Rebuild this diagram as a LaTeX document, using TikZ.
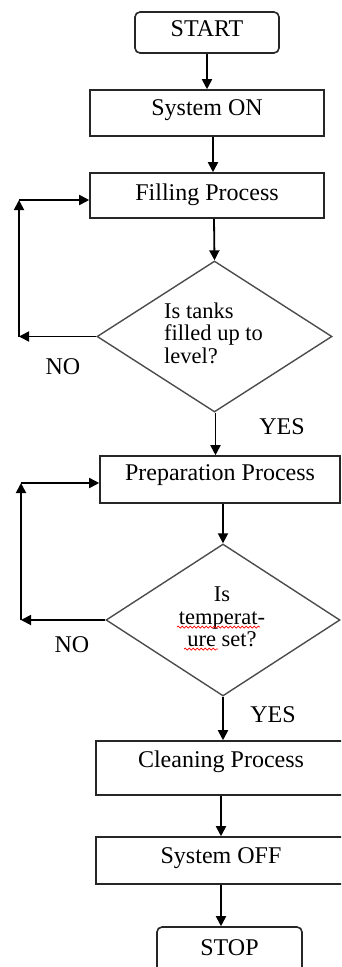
\documentclass[tikz,border=0pt]{standalone}
\usepackage{fontspec}
\setmainfont{Liberation Serif}
\usetikzlibrary{arrows.meta,shapes.geometric,decorations.pathmorphing}
\begin{document}
\begin{tikzpicture}[x=1pt,y=-1pt,
  arr/.style={line width=1.8pt,-{Triangle[length=10pt,width=10pt]}},
  boxst/.style={draw=black!85,line width=1.6pt,rectangle,inner sep=0pt,font=\fontsize{24}{26}\selectfont},
  termst/.style={boxst,rounded corners=5pt},
  decst/.style={draw=black!70,line width=1.4pt,diamond,inner sep=0pt},
  lblst/.style={inner sep=0pt,font=\fontsize{24}{26}\selectfont},
  dtxt/.style={inner sep=0pt,font=\fontsize{22.5}{22.5}\selectfont},
  squig/.style={draw=red,line width=0.7pt,decorate,decoration={snake,segment length=4pt,amplitude=1pt}}]
\useasboundingbox (0,0) rectangle (341,967);
\begin{scope}
\clip (0,0) rectangle (341,967);
% terminals and process boxes
\node[termst,minimum width=144pt,text height=24pt,text depth=17pt] (start) at (207,32.5) {START};
\node[boxst,minimum width=234pt,text height=25pt,text depth=21pt] (son) at (207,113) {System ON};
\node[boxst,minimum width=234pt,text height=27pt,text depth=18pt] (fill) at (207,195.5) {Filling Process};
\node[decst,minimum width=235pt,minimum height=151pt] (d1) at (214.5,336.5) {};
\node[dtxt,align=left,anchor=west] (t1) at (164,333) {Is tanks\\filled up to\\level?};
\node[boxst,minimum width=240pt,text height=24pt,text depth=23pt] (prep) at (220,479.5) {Preparation Process};
\node[decst,minimum width=234pt,minimum height=152pt] (d2) at (223,620) {};
\node[dtxt,align=center] (t2) at (222,617) {Is\\temperat-\\ure set?};
\node[boxst,minimum width=250pt,text height=26pt,text depth=28pt] (clean) at (221,768) {Cleaning Process};
\node[boxst,minimum width=250pt,text height=26pt,text depth=21pt] (off) at (221,860.5) {System OFF};
\node[termst,minimum width=145pt,text height=28pt,text depth=20pt] (stop) at (229.5,951) {STOP};
% labels
\node[lblst] (no1) at (63,367) {NO};
\node[lblst] (yes1) at (282,427) {YES};
\node[lblst] (no2) at (72,645) {NO};
\node[lblst] (yes2) at (273,715) {YES};
% spell-check squiggles
\coordinate (s1a) at (177,627); \coordinate (s1b) at (260,627);
\coordinate (s2a) at (184,649); \coordinate (s2b) at (218,649);
\path[squig] (s1a) -- (s1b);
\path[squig] (s2a) -- (s2b);
% loop corners
\coordinate (c1a) at (19,336.5);
\coordinate (c1b) at (19,200);
\coordinate (c2a) at (21,620);
\coordinate (c2b) at (21,483);
% main flow
\draw[arr] (start.south) -- (start.south |- son.north);
\draw[arr] ([xshift=6pt]son.south) -- ([xshift=6pt]son.south |- fill.north);
\draw[arr] ([xshift=7pt]fill.south) -- (d1.north);
\draw[arr] ([xshift=1pt]d1.south) -- ([xshift=1pt]d1.south |- prep.north);
\draw[arr] ([xshift=3pt]prep.south) -- (d2.north);
\draw[arr] (d2.south) -- (d2.south |- clean.north);
\draw[arr] (clean.south) -- (clean.south |- off.north);
\draw[arr] (off.south) -- (off.south |- stop.north);
% loops
\draw[arr] (d1.west) -- (c1a);
\draw[arr] (c1a) -- (c1b);
\draw[arr] (c1b) -- (fill.west |- c1b);
\draw[arr] (d2.west) -- (c2a);
\draw[arr] (c2a) -- (c2b);
\draw[arr] (c2b) -- (prep.west |- c2b);
\end{scope}
\end{tikzpicture}
\end{document}
